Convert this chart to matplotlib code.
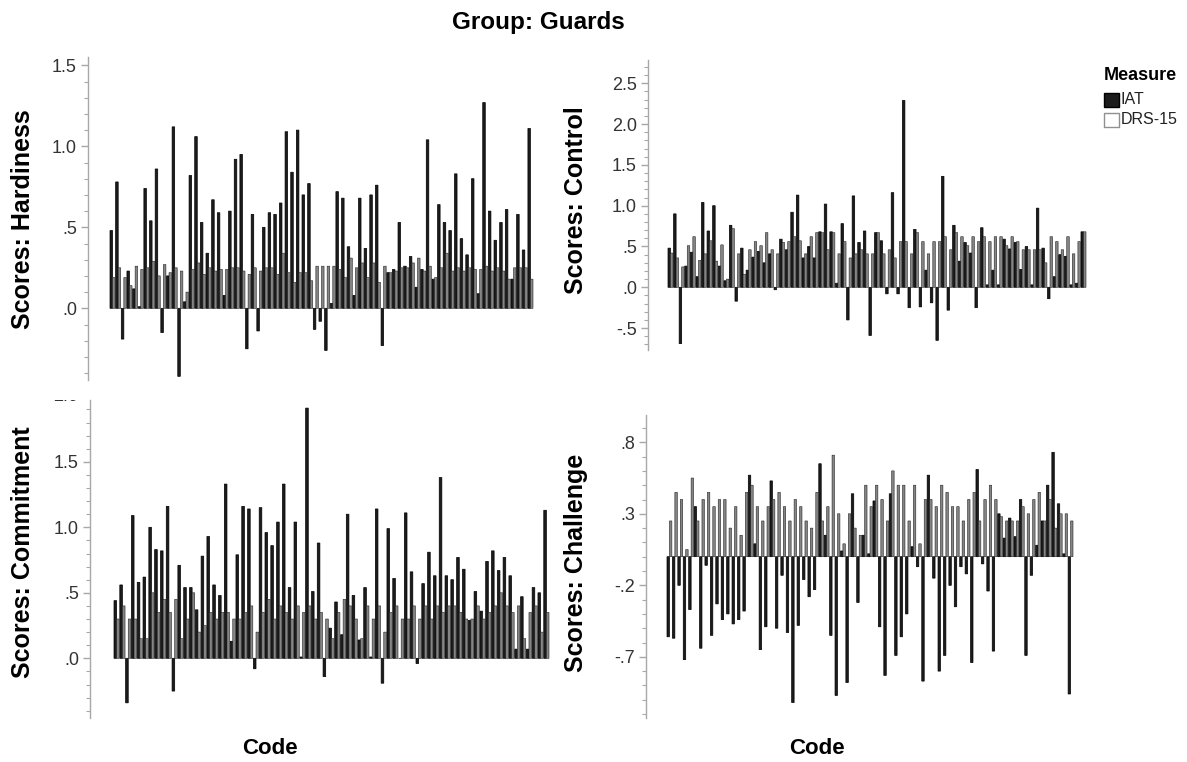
import numpy as np
import matplotlib
matplotlib.use('Agg')
import matplotlib.pyplot as plt
from matplotlib.patches import Rectangle
from matplotlib.ticker import MultipleLocator, FixedLocator, FuncFormatter
from matplotlib.transforms import Bbox, TransformedBbox

plt.rcParams['font.family'] = ['Liberation Sans', 'DejaVu Sans']

W, H = 1187, 762

# one pair of bars per code (75 codes)
codes = np.arange(1, 76)

hard_iat = [0.48, 0.78, -0.19, 0.23, 0.12, 0.01, 0.74, 0.54, 0.86, -0.15,
            0.20, 1.12, -0.42, 0.04, 0.82, 1.06, 0.53, 0.34, 0.67, 0.59,
            0.08, 0.60, 0.92, 0.95, -0.25, 0.58, -0.14, 0.50, 0.59, 0.58,
            0.65, 1.09, 0.84, 1.10, 0.70, 0.77, -0.13, -0.08, -0.26, 0.03,
            0.72, 0.68, 0.38, 0.08, 0.68, 0.37, 0.70, 0.76, -0.23, 0.22,
            0.24, 0.53, 0.26, 0.32, 0.13, 0.24, 1.04, 0.18, 0.64, 0.53,
            0.48, 0.83, 0.43, 0.33, 0.80, 0.09, 1.27, 0.60, 0.42, 0.53,
            0.61, 0.18, 0.58, 0.36, 1.11]
hard_drs = [0.19, 0.25, 0.19, 0.14, 0.26, 0.24, 0.25, 0.29, 0.20, 0.27,
            0.22, 0.25, 0.23, 0.10, 0.24, 0.28, 0.21, 0.25, 0.23, 0.24,
            0.24, 0.25, 0.25, 0.23, 0.21, 0.25, 0.23, 0.25, 0.25, 0.21,
            0.34, 0.22, 0.16, 0.22, 0.22, 0.17, 0.26, 0.26, 0.26, 0.26,
            0.24, 0.19, 0.31, 0.25, 0.28, 0.19, 0.28, 0.16, 0.26, 0.22,
            0.23, 0.25, 0.25, 0.28, 0.31, 0.23, 0.26, 0.19, 0.25, 0.34,
            0.23, 0.25, 0.23, 0.25, 0.24, 0.24, 0.26, 0.23, 0.25, 0.23,
            0.18, 0.25, 0.25, 0.25, 0.18]

ctrl_iat = [0.48, 0.90, -0.69, 0.26, 0.43, 0.13, 1.04, 0.69, 1.00, 0.26,
            0.08, 0.76, -0.17, 0.48, 0.21, 0.37, 0.44, 0.30, 0.41, -0.03,
            0.59, 0.46, 0.92, 1.13, 0.36, 0.50, 0.36, 0.68, 1.02, 0.68,
            0.05, 0.78, -0.40, 1.12, 0.55, 0.69, -0.59, 0.67, 0.57, -0.08,
            1.16, -0.08, 2.29, -0.25, 0.71, -0.24, 0.21, -0.19, -0.65, 1.36,
            -0.28, 0.76, 0.32, 0.55, 0.42, -0.25, 0.73, 0.03, 0.21, 0.03,
            0.59, 0.47, 0.55, 0.22, 0.50, 0.03, 0.97, 0.48, -0.14, 0.13,
            0.40, 0.38, 0.03, 0.05, 0.68]
ctrl_drs = [0.42, 0.36, 0.25, 0.51, 0.62, 0.33, 0.41, 0.57, 0.32, 0.52,
            0.10, 0.72, 0.41, 0.16, 0.46, 0.56, 0.51, 0.67, 0.46, 0.41,
            0.55, 0.56, 0.62, 0.57, 0.41, 0.62, 0.67, 0.67, 0.46, 0.67,
            0.41, 0.56, 0.36, 0.41, 0.46, 0.41, 0.41, 0.67, 0.41, 0.46,
            0.36, 0.56, 0.56, 0.41, 0.67, 0.56, 0.41, 0.56, 0.56, 0.62,
            0.46, 0.67, 0.62, 0.51, 0.62, 0.56, 0.62, 0.56, 0.62, 0.62,
            0.51, 0.62, 0.56, 0.46, 0.46, 0.46, 0.46, 0.30, 0.62, 0.56,
            0.46, 0.62, 0.41, 0.56, 0.68]

comm_iat = [0.44, 0.56, -0.34, 1.09, 0.58, 0.62, 1.00, 0.83, 0.82, 1.16,
            -0.25, 0.71, 0.54, 0.54, 0.37, 0.78, 0.93, 0.56, 0.48, 1.33,
            0.13, 0.79, 1.16, 1.14, -0.08, 1.15, 0.96, 0.86, 1.04, 1.33,
            0.54, 1.04, 0.01, 1.91, 0.51, 0.88, -0.14, 0.23, 0.43, 0.18,
            1.10, 0.48, 0.14, 0.54, 0.01, 1.14, -0.19, 0.99, 0.61, 0.00,
            1.11, 0.66, -0.04, 0.57, 0.81, 0.63, 1.38, 0.63, 0.60, 0.77,
            0.68, 0.29, 0.51, 0.36, 0.74, 0.82, 0.67, 0.77, 0.63, 0.07,
            0.47, 0.07, 0.54, 0.50, 1.13]
comm_drs = [0.30, 0.40, 0.30, 0.30, 0.15, 0.15, 0.50, 0.35, 0.45, 0.35,
            0.45, 0.15, 0.30, 0.50, 0.20, 0.25, 0.35, 0.30, 0.35, 0.35,
            0.30, 0.30, 0.35, 0.40, 0.20, 0.35, 0.45, 0.30, 0.40, 0.35,
            0.30, 0.40, 0.35, 0.40, 0.30, 0.35, 0.30, 0.15, 0.35, 0.45,
            0.40, 0.30, 0.15, 0.40, 0.30, 0.40, 0.20, 0.35, 0.40, 0.30,
            0.30, 0.40, 0.30, 0.40, 0.30, 0.40, 0.35, 0.40, 0.40, 0.35,
            0.30, 0.30, 0.40, 0.30, 0.35, 0.40, 0.50, 0.40, 0.35, 0.40,
            0.15, 0.35, 0.40, 0.20, 0.35]

chal_iat = [-0.56, -0.57, -0.20, -0.72, -0.37, 0.35, -0.64, -0.06, -0.55, -0.33,
            -0.44, -0.40, -0.47, -0.44, -0.38, 0.57, 0.09, -0.65, -0.49, 0.53,
            -0.50, -0.13, -0.53, -1.02, -0.48, -0.16, -0.28, -0.23, 0.65, 0.15,
            -0.55, -0.97, 0.04, -0.88, 0.44, -0.32, 0.15, 0.02, 0.39, -0.49,
            -0.83, 0.44, -0.69, -0.56, -0.40, 0.07, -0.07, -0.87, 0.57, -0.15,
            -0.80, -0.69, -0.20, -0.35, -0.07, -0.12, -0.74, 0.61, -0.05, -0.24,
            -0.66, 0.30, 0.13, 0.27, 0.14, 0.40, -0.69, -0.13, 0.08, 0.25,
            0.50, 0.73, 0.37, 0.02, -0.96]
chal_drs = [0.25, 0.45, 0.40, 0.05, 0.55, 0.25, 0.40, 0.45, 0.35, 0.40,
            0.40, 0.20, 0.35, 0.15, 0.45, 0.50, 0.35, 0.25, 0.35, 0.40,
            0.45, 0.35, 0.25, 0.40, 0.35, 0.25, 0.20, 0.45, 0.25, 0.35,
            0.71, 0.30, 0.09, 0.30, 0.20, 0.15, 0.50, 0.35, 0.50, 0.40,
            0.25, 0.60, 0.50, 0.50, 0.25, 0.50, 0.09, 0.40, 0.40, 0.35,
            0.50, 0.45, 0.35, 0.35, 0.25, 0.40, 0.45, 0.25, 0.40, 0.50,
            0.40, 0.28, 0.25, 0.25, 0.25, 0.35, 0.30, 0.40, 0.45, 0.25,
            0.40, 0.20, 0.30, 0.30, 0.25]

measures = ['IAT', 'DRS-15']
IAT_COL = '#1c1c1c'
DRS_COL = '#858585'
AXIS_COL = '#a8a8a8'

# panel layout in pixels: axes left/right/top/bottom, bars left/right, zero row, px per unit
panels = [
    dict(label='Scores: Hardiness', iat=hard_iat, drs=hard_drs,
         ax=(88, 540, 57, 380), bars=(110, 533), zero=308.3, ppu=162.0,
         major=0.5, lab=(23, 219)),
    dict(label='Scores: Control', iat=ctrl_iat, drs=ctrl_drs,
         ax=(648, 1092, 60, 350), bars=(668, 1086), zero=287.3, ppu=81.6,
         major=0.5, lab=(576, 200)),
    dict(label='Scores: Commitment', iat=comm_iat, drs=comm_drs,
         ax=(90, 555, 400, 718), bars=(114, 549), zero=658.3, ppu=131.0,
         major=0.5, lab=(23, 552)),
    dict(label='Scores: Challenge', iat=chal_iat, drs=chal_drs,
         ax=(646, 1080, 415, 718), bars=(667, 1073), zero=556.7, ppu=143.0,
         major=[-0.7, -0.2, 0.3, 0.8], lab=(576, 563)),
]


def spss_fmt(v, pos=None):
    if abs(v) < 1e-9:
        return '.0'
    s = f'{v:.1f}'
    return s.replace('0.', '.', 1)


fig = plt.figure(figsize=(W / 100, H / 100), dpi=100)
n = len(codes)
x = np.arange(n)
bw = 0.45

for p in panels:
    l, r, t, b = p['ax']
    ax = fig.add_axes([l / W, 1 - b / H, (r - l) / W, (b - t) / H])
    ax.bar(x - bw / 2, p['iat'], bw, color=IAT_COL, edgecolor='black',
           linewidth=0.5, snap=False)
    ax.bar(x + bw / 2, p['drs'], bw, color=DRS_COL, edgecolor='#222222',
           linewidth=0.4, snap=False)

    bl, br = p['bars']
    scale = (br - bl) / (n - 1 + 2 * bw)
    ax.set_xlim(-bw - (bl - l) / scale, n - 1 + bw + (r - br) / scale)
    ax.set_ylim((p['zero'] - b) / p['ppu'], (p['zero'] - t) / p['ppu'])

    for s in ['top', 'right', 'bottom']:
        ax.spines[s].set_visible(False)
    ax.spines['left'].set_color(AXIS_COL)
    ax.spines['left'].set_linewidth(1.0)
    ax.set_xticks([])
    if isinstance(p['major'], list):
        ax.yaxis.set_major_locator(FixedLocator(p['major']))
    else:
        ax.yaxis.set_major_locator(MultipleLocator(p['major']))
    ax.yaxis.set_minor_locator(MultipleLocator(0.1))
    ax.yaxis.set_major_formatter(FuncFormatter(spss_fmt))
    ax.tick_params(axis='y', which='major', length=5, width=1, color=AXIS_COL,
                   labelsize=13, labelcolor='#333333', pad=3)
    ax.tick_params(axis='y', which='minor', length=3, width=0.8, color=AXIS_COL)

    fig.text(p['lab'][0] / W, 1 - p['lab'][1] / H, p['label'], rotation=90,
             ha='center', va='center', fontsize=18, fontweight='bold')

    if p['label'] == 'Scores: Commitment':
        # the 2.0 label sits at the top edge and is cut off there
        tx = ax.text(-0.025, 2.0, '2.0', transform=ax.get_yaxis_transform(),
                     ha='right', va='center', fontsize=13, color='#333333')
        clip = TransformedBbox(Bbox([[0, 0], [0.5, 1 - t / H]]), fig.transFigure)
        tx.set_clip_box(clip)
        tx.set_clip_on(True)

fig.text(538 / W, 1 - 22 / H, 'Group: Guards', ha='center', va='center',
         fontsize=17.5, fontweight='bold')
fig.text(270 / W, 1 - 748 / H, 'Code', ha='center', va='center',
         fontsize=16, fontweight='bold')
fig.text(817 / W, 1 - 748 / H, 'Code', ha='center', va='center',
         fontsize=16, fontweight='bold')

# legend
fig.text(1104 / W, 1 - 76 / H, 'Measure', ha='left', va='center',
         fontsize=13, fontweight='bold')
leg_cols = [(IAT_COL, 'black'), ('white', '#909090')]
for i, name in enumerate(measures):
    yc = 100 + i * 20
    fig.patches.append(Rectangle(((1104) / W, 1 - (yc + 7) / H), 15 / W, 14 / H,
                                 facecolor=leg_cols[i][0], edgecolor=leg_cols[i][1],
                                 linewidth=1, transform=fig.transFigure, figure=fig))
    fig.text(1121 / W, 1 - yc / H, name, ha='left', va='center', fontsize=11.5,
             color='#222222')

fig.savefig('out.png', dpi=100)
